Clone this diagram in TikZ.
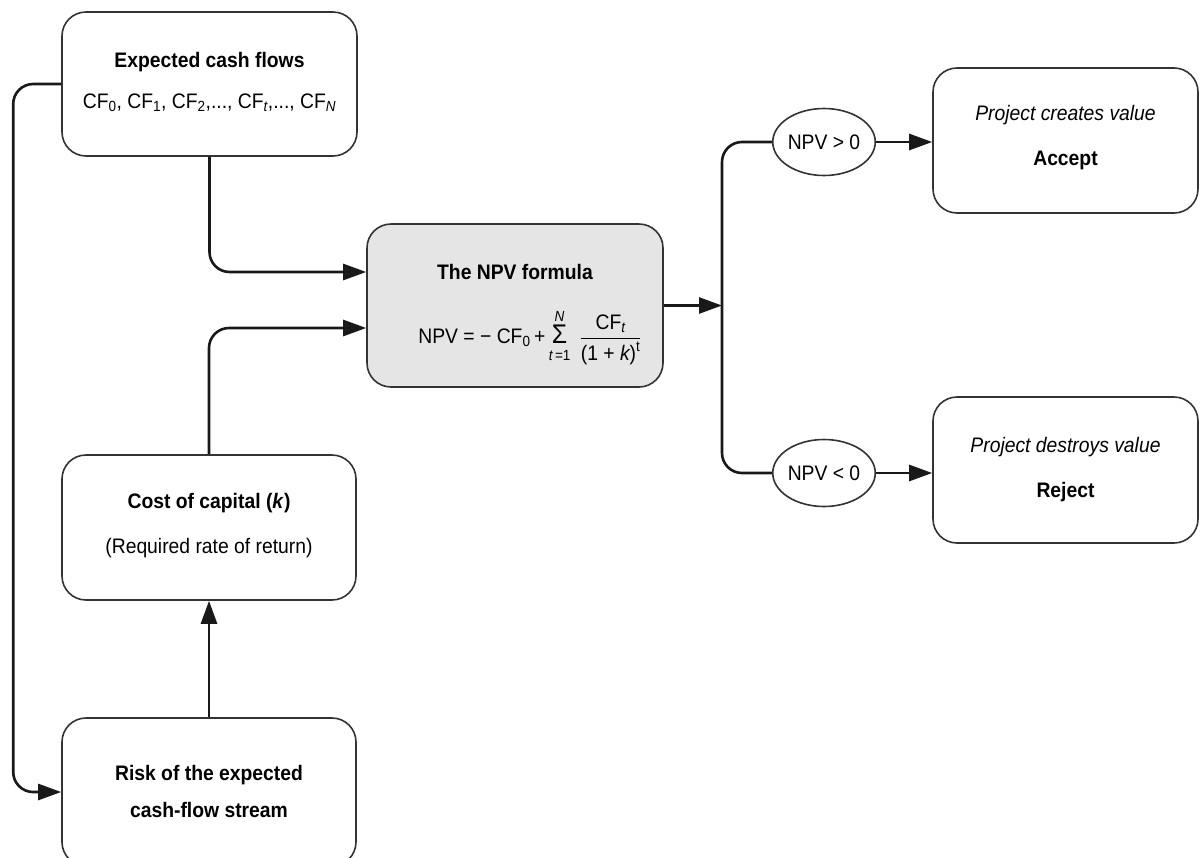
\documentclass[tikz,border=0pt]{standalone}
\usepackage{amsmath}
\usepackage{fontspec}
\setmainfont{Liberation Sans}[FakeStretch=0.92]
\usetikzlibrary{arrows.meta,shapes.geometric}
\tikzset{
  box/.style={draw=black!80, line width=1.6pt, rounded corners=24pt, fill=white, inner sep=0pt},
  oval/.style={draw=black!80, ellipse, line width=1.6pt, minimum width=95pt, minimum height=67pt, inner sep=0pt, font=\fontsize{21}{25}\selectfont},
  lbl/.style={inner sep=0pt, font=\fontsize{21}{25}\selectfont},
  conn/.style={draw=black!90, line width=2.6pt, rounded corners=20pt},
  arr/.style={-{Triangle[length=23pt,width=16pt]}},
}
\begin{document}
\begin{tikzpicture}[x=1pt,y=-1pt]
\useasboundingbox (0,0) rectangle (1201,857);
% boxes
\node[box, minimum width=295pt, minimum height=144pt] (ecf) at (209.5,84) {};
\node[box, minimum width=294pt, minimum height=145pt] (cost) at (209,527.5) {};
\node[box, minimum width=294pt, minimum height=148pt] (risk) at (209,792) {};
\node[box, fill=black!10, minimum width=296pt, minimum height=163pt] (npv) at (515,305.5) {};
\node[box, minimum width=265pt, minimum height=145pt] (accept) at (1065.5,140.5) {};
\node[box, minimum width=265pt, minimum height=146pt] (reject) at (1065.5,470) {};
\node[oval] (e1) at (824,142) {NPV > 0};
\node[oval] (e2) at (824,473) {NPV < 0};
% texts
\node[lbl] (t1a) at (209.5,62) {\bfseries Expected cash flows};
\node[lbl] (t1b) at (209.5,103) {CF\textsubscript{0}, CF\textsubscript{1}, CF\textsubscript{2},..., CF\textsubscript{\itshape t},..., CF\textsubscript{\itshape N}};
\node[lbl] (t2a) at (209,503) {\bfseries Cost of capital (\itshape k\/\upshape)};
\node[lbl] (t2b) at (209,548) {(Required rate of return)};
\node[lbl] (t3a) at (209,775) {\bfseries Risk of the expected};
\node[lbl] (t3b) at (209,810) {\bfseries cash-flow stream};
\node[lbl] (t4a) at (515,272) {\bfseries The NPV formula};
\node[lbl] (t4b) at (530,337) {$\text{NPV = − CF}_{\text{0}}\text{\,+}\mathop{\text{\fontsize{27}{27}\selectfont Σ}}\limits_{\rule{0pt}{13pt}\text{\itshape t\upshape\,=1}}^{\text{\itshape N}}\;\dfrac{\text{CF}_{\text{\itshape t}}}{\text{(1 + \itshape k\upshape)}^{\text{t}}}$};
\node[lbl] (t5a) at (1065.5,115) {\itshape Project creates value};
\node[lbl] (t5b) at (1065.5,160) {\bfseries Accept};
\node[lbl] (t6a) at (1065.5,447) {\itshape Project destroys value};
\node[lbl] (t6b) at (1065.5,492) {\bfseries Reject};
% connectors
\coordinate (j) at (722,307);
\draw[conn, arr] (ecf.west) -- ++(-48,0) |- (risk.west);
\draw[conn, arr] (ecf.south) |- (npv.west |- 0,272);
\draw[conn, arr] (cost.north) |- (npv.west |- 0,328);
\draw[conn, arr] (risk.north) -- (cost.south);
\draw[conn, arr] (npv.east) -- (npv.east -| j);
\draw[conn] (e1.west) -| (j) |- (e2.west);
\draw[conn, arr] (e1.east) -- (e1.east -| accept.west);
\draw[conn, arr] (e2.east) -- (e2.east -| reject.west);
\end{tikzpicture}
\end{document}
